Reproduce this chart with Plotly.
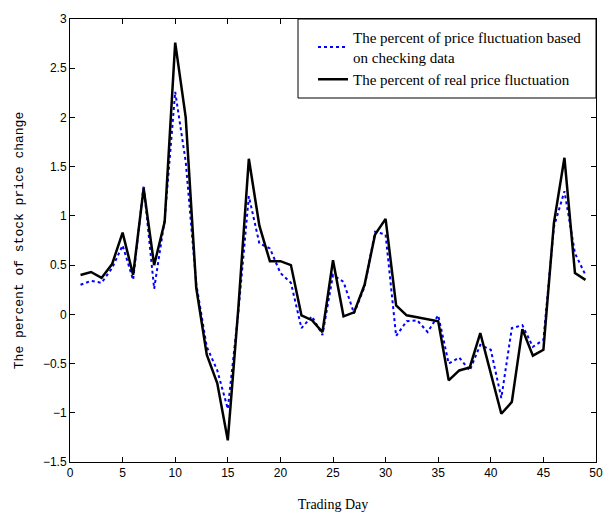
import plotly.graph_objects as go

days = list(range(1, 50))

real_change = [0.40, 0.43, 0.37, 0.51, 0.83, 0.40, 1.28, 0.50, 0.94, 2.76,
               2.00, 0.27, -0.41, -0.70, -1.28, 0.06, 1.58, 0.90, 0.54, 0.54,
               0.50, -0.01, -0.06, -0.18, 0.55, -0.02, 0.02, 0.30, 0.81, 0.97,
               0.09, -0.01, -0.03, -0.05, -0.07, -0.67, -0.57, -0.54, -0.19, -0.60,
               -1.01, -0.89, -0.15, -0.42, -0.36, 0.93, 1.59, 0.42, 0.35]

checking_change = [0.30, 0.34, 0.32, 0.47, 0.70, 0.35, 1.31, 0.26, 0.96, 2.26,
                   1.55, 0.31, -0.33, -0.57, -0.96, 0.02, 1.20, 0.72, 0.67, 0.42,
                   0.32, -0.14, -0.02, -0.21, 0.40, 0.33, 0.01, 0.28, 0.84, 0.81,
                   -0.22, -0.07, -0.06, -0.18, -0.01, -0.50, -0.44, -0.57, -0.31, -0.36,
                   -0.85, -0.14, -0.11, -0.33, -0.26, 0.89, 1.25, 0.62, 0.40]

x_ticks = [0, 5, 10, 15, 20, 25, 30, 35, 40, 45, 50]
y_ticks = [-1.5, -1, -0.5, 0, 0.5, 1, 1.5, 2, 2.5, 3]

serif = "Liberation Serif"
sans = "Liberation Sans"
mono = "Liberation Mono"

W, H = 604, 512
ML, MR, MT, MB = 70, 8, 19, 50
PW, PH = W - ML - MR, H - MT - MB

def px_to_xpaper(px):
    return (px - ML) / PW

def py_to_ypaper(py):
    return (H - MB - py) / PH

fig = go.Figure()
fig.add_trace(go.Scatter(
    x=days, y=checking_change, mode="lines",
    name="The percent of price fluctuation based<br>on checking data",
    line=dict(color="#0000ff", width=2, dash="dot"),
))
fig.add_trace(go.Scatter(
    x=days, y=real_change, mode="lines",
    name="The percent of real price fluctuation",
    line=dict(color="#000000", width=2.5),
))

# legend frame
fig.add_shape(type="rect", xref="paper", yref="paper",
              x0=px_to_xpaper(298), x1=1, y0=py_to_ypaper(98), y1=1,
              line=dict(color="#000000", width=1), fillcolor="#ffffff", layer="above")

axis_common = dict(
    showline=True, linecolor="#000000", linewidth=1, mirror="ticks",
    ticks="inside", ticklen=5, tickcolor="#000000",
    showgrid=False, zeroline=False,
    tickfont=dict(family=sans, size=12, color="#000000"),
    ticklabeloverflow="allow",
)

fig.update_layout(
    width=W, height=H,
    paper_bgcolor="#ffffff", plot_bgcolor="#ffffff",
    margin=dict(l=ML, r=MR, t=MT, b=MB),
    showlegend=True,
    legend=dict(
        x=px_to_xpaper(313), y=1 - 2 / PH, xanchor="left", yanchor="top",
        bgcolor="rgba(0,0,0,0)", borderwidth=0,
        font=dict(family=serif, size=15, color="#000000"),
        tracegroupgap=0,
    ),
    xaxis=dict(range=[0, 50], tickvals=x_ticks,
               title=dict(text="Trading Day", font=dict(family=serif, size=14, color="#000000"), standoff=20),
               automargin=False, **axis_common),
    yaxis=dict(range=[-1.5, 3], tickvals=y_ticks,
               title=dict(text="The percent of stock price change", font=dict(family=mono, size=13, color="#000000"), standoff=16),
               automargin=False, **axis_common),
)

fig.write_html("out.html", config={"displayModeBar": False},
               post_script="document.body.style.margin='0';document.body.style.overflow='hidden';")
